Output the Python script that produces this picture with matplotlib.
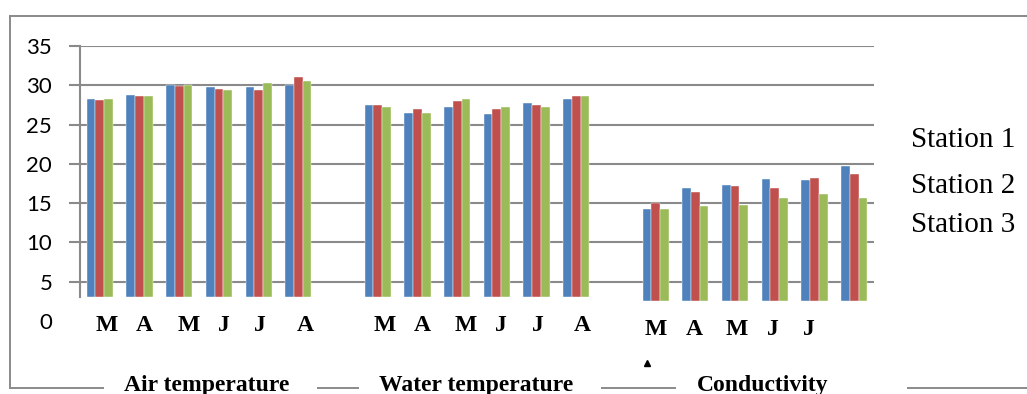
import matplotlib
matplotlib.use("Agg")
import matplotlib.pyplot as plt
from matplotlib import transforms
from matplotlib.lines import Line2D
import numpy as np

# ---- data -------------------------------------------------------------
months = ["M", "A", "M", "J", "J", "A"]
cond_months = ["M", "A", "M", "J", "J", ""]
parameters = ["Air temperature", "Water temperature", "Conductivity"]
stations = ["Station 1", "Station 2", "Station 3"]

air_s1 = [28.2, 28.8, 30.0, 29.8, 29.8, 30.1]
air_s2 = [28.1, 28.7, 29.9, 29.5, 29.4, 31.1]
air_s3 = [28.3, 28.7, 30.0, 29.4, 30.3, 30.5]

water_s1 = [27.5, 26.5, 27.3, 26.4, 27.7, 28.2]
water_s2 = [27.5, 27.0, 28.0, 27.0, 27.5, 28.7]
water_s3 = [27.3, 26.5, 28.2, 27.3, 27.3, 28.6]

cond_s1 = [14.3, 16.9, 17.3, 18.1, 17.9, 19.7]
cond_s2 = [15.0, 16.4, 17.2, 16.9, 18.2, 18.7]
cond_s3 = [14.3, 14.6, 14.8, 15.6, 16.2, 15.7]

y_ticks = [0, 5, 10, 15, 20, 25, 30, 35]

# ---- style / layout ---------------------------------------------------
colors = ["#4F81BD", "#C0504D", "#9BBB59"]
grid_col = "#8a8a8a"
W, H = 1027, 394
bar_w = 0.22
bar_floor = [3.0, 3.0, 2.5]          # visible base of each bar block
group_start = [0, 7, 14]             # slot index of each block's first month

fig = plt.figure(figsize=(W / 100, H / 100), dpi=100)
ax = fig.add_axes([80 / W, 1 - 321 / H, (874 - 80) / W, (321 - 46) / H])
ax.set_xlim(-0.5, 19.5)
ax.set_ylim(0, 35)

series = [
    (air_s1, air_s2, air_s3),
    (water_s1, water_s2, water_s3),
    (cond_s1, cond_s2, cond_s3),
]
for g, block in enumerate(series):
    x = group_start[g] + np.arange(len(months))
    for k, vals in enumerate(block):
        vals = np.asarray(vals)
        ax.bar(x + (k - 1) * bar_w, vals - bar_floor[g], bottom=bar_floor[g],
               width=bar_w, color=colors[k], edgecolor="white",
               linewidth=0.3, zorder=3)

# y axis: gridlines joined to outward ticks
ax.set_yticks(y_ticks)
ax.set_yticklabels([str(v) for v in y_ticks], family="Lato", fontsize=16)
ax.yaxis.grid(True, color=grid_col, linewidth=1.5, zorder=0)
ax.tick_params(axis="y", length=8, width=1.5, color=grid_col, pad=12)
t0 = ax.yaxis.get_major_ticks()[0]
t0.tick1line.set_visible(False)
t0.gridline.set_visible(False)
ax.set_xticks([])
for s in ("top", "right", "bottom"):
    ax.spines[s].set_visible(False)
ax.spines["left"].set_color(grid_col)
ax.spines["left"].set_linewidth(1.5)
ax.spines["left"].set_bounds(3, 35)

# month labels under each block
blend = transforms.blended_transform_factory(ax.transData, fig.transFigure)
label_dx = [[6.5, 5, 9, 4.5, 1, 6.5],
            [6.5, 5, 9, 4.5, 1, 6.5],
            [0, -1.5, 2, -2, -6, 0]]
label_base = [331, 331, 335]
for g, labs in enumerate([months, months, cond_months]):
    for i, lab in enumerate(labs):
        tr = transforms.offset_copy(blend, fig=fig, x=label_dx[g][i], units="dots")
        ax.text(group_start[g] + i, 1 - label_base[g] / H, lab, transform=tr,
                ha="center", va="baseline", family="Liberation Serif",
                fontweight="bold", fontsize=17, clip_on=False)

# small caret under the conductivity block
fig.add_artist(Line2D([646.7 / W], [1 - 363 / H], marker="^", markersize=4,
                      color="black", linestyle="none", transform=fig.transFigure))

# parameter names along the bottom border
title_x = [206.5, 476, 762.5]
for name, xc in zip(parameters, title_x):
    fig.text(xc / W, 1 - 391 / H, name, ha="center", va="baseline",
             family="Liberation Serif", fontweight="bold", fontsize=17)

# station names on the right
station_base = [146.7, 192.7, 231.7]
for name, yb in zip(stations, station_base):
    fig.text(910.7 / W, 1 - yb / H, name, ha="left", va="baseline",
             family="Liberation Serif", fontsize=21)

# outer frame (broken where the parameter names sit)
frame_kw = dict(color=grid_col, linewidth=1.4, transform=fig.transFigure)
fy_top, fy_bot, fx_left = 1 - 15.7 / H, 1 - 387.7 / H, 10.3 / W
fig.add_artist(Line2D([fx_left, 1.0], [fy_top, fy_top], **frame_kw))
fig.add_artist(Line2D([fx_left, fx_left], [fy_top, fy_bot], **frame_kw))
for a, b in [(10.3, 103), (318, 358), (602, 675), (908, 1027)]:
    fig.add_artist(Line2D([a / W, b / W], [fy_bot, fy_bot], **frame_kw))

fig.savefig("out.png", dpi=100)
